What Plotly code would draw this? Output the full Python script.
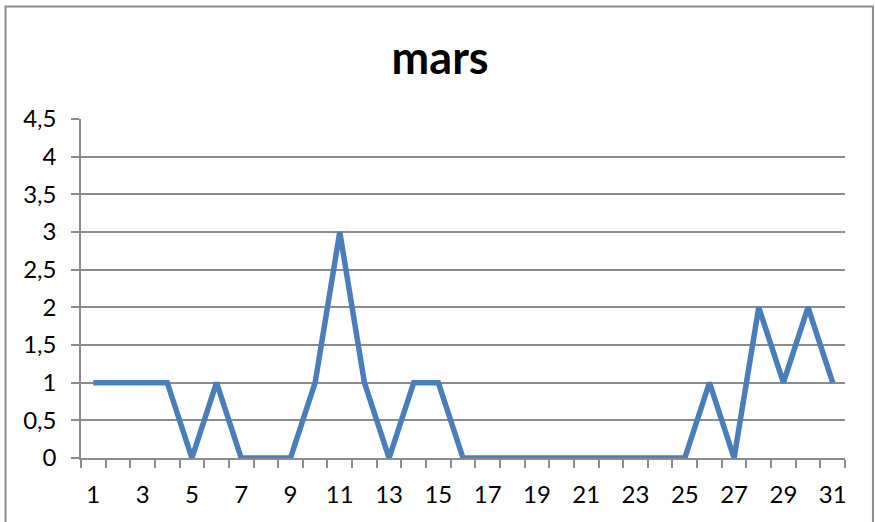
import plotly.graph_objects as go

days = list(range(1, 32))
values = [1, 1, 1, 1, 0, 1, 0, 0, 0, 1, 3, 1, 0, 1, 1, 0,
          0, 0, 0, 0, 0, 0, 0, 0, 0, 1, 0, 2, 1, 2, 1]
x_labels = list(range(1, 32, 2))
y_ticks = [0, 0.5, 1, 1.5, 2, 2.5, 3, 3.5, 4, 4.5]

LINE_COLOR = '#4A7EBB'
GRID_COLOR = '#8C8C8C'
FONT = 'Lato'

fig = go.Figure(go.Scatter(
    x=days, y=values, mode='lines',
    line=dict(color=LINE_COLOR, width=5.5),
    hoverinfo='x+y'
))

fig.update_layout(
    width=875, height=522,
    margin=dict(l=81, r=30, t=119, b=64),
    paper_bgcolor='white', plot_bgcolor='white',
    separators=',.',
    showlegend=False,
    font=dict(family=FONT, color='black', size=24),
    title=dict(text='<b>mars</b>', x=0.503, xanchor='center',
               y=0.888, yanchor='middle',
               font=dict(family=FONT, size=45, color='black')),
    # chart frame
    shapes=[dict(type='rect', xref='paper', yref='paper',
                 x0=-0.0988, x1=1.0366, y0=-0.25, y1=1.3319,
                 line=dict(color='#8C8C8C', width=2), layer='below')],
)

fig.update_xaxes(
    range=[0.5, 31.5], tickvals=x_labels, ticks='',
    showgrid=False, zeroline=False,
    showline=True, linecolor=GRID_COLOR, linewidth=1.5,
    ticklabelstandoff=14,
    minor=dict(tick0=0.5, dtick=1, ticks='outside', ticklen=8,
               tickcolor=GRID_COLOR, tickwidth=1.5, showgrid=False),
)

fig.update_yaxes(
    range=[0, 4.5], tickvals=y_ticks,
    ticks='outside', ticklen=8, tickcolor=GRID_COLOR, tickwidth=1.5,
    showgrid=True, gridcolor=GRID_COLOR, gridwidth=1.5,
    zeroline=False, showline=True, linecolor=GRID_COLOR, linewidth=1.5,
    ticklabelstandoff=10,
)

# page body has a default 8px margin; drop it so the figure sits at 0,0
fig.write_html("out.html", config={'displayModeBar': False},
               post_script="document.body.style.margin='0';")
